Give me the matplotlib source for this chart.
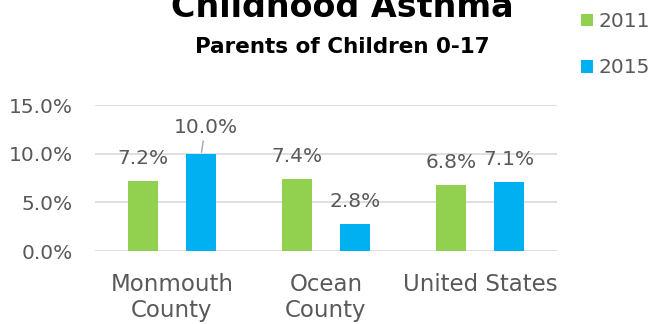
import matplotlib
matplotlib.use("Agg")
import matplotlib.pyplot as plt
import numpy as np
from matplotlib.patches import Patch

categories = ["Monmouth\nCounty", "Ocean\nCounty", "United States"]
series_names = ["2011", "2015"]
values_2011 = [7.2, 7.4, 6.8]
values_2015 = [10.0, 2.8, 7.1]
yticks = [0, 5, 10, 15]

colors = ["#92D050", "#00B0F0"]
text_gray = "#595959"
grid_gray = "#D9D9D9"

plt.rcParams["font.family"] = ["DejaVu Sans"]

fig = plt.figure(figsize=(6.52, 3.24), dpi=100)
ax = fig.add_axes([0.1457, 0.2253, 0.7086, 0.4506])

x = np.arange(len(categories))
offset = 0.19
width = 0.195

bars_a = ax.bar(x - offset, values_2011, width, color=colors[0], zorder=3)
bars_b = ax.bar(x + offset, values_2015, width, color=colors[1], zorder=3)

for bars in (bars_a, bars_b):
    for b in bars:
        v = b.get_height()
        cx = b.get_x() + b.get_width() / 2
        if v >= 9.5:
            # label pushed up with a leader line, as in the source
            ax.annotate(f"{v:.1f}%", xy=(cx, v), xytext=(3, 15),
                        textcoords="offset points", ha="center", va="baseline",
                        fontsize=14.5, color=text_gray,
                        arrowprops=dict(arrowstyle="-", color="#A6A6A6",
                                        lw=1, shrinkA=1, shrinkB=1),
                        annotation_clip=False)
        else:
            ax.annotate(f"{v:.1f}%", xy=(cx, v), xytext=(0, 12),
                        textcoords="offset points", ha="center", va="baseline",
                        fontsize=14.5, color=text_gray, annotation_clip=False)

ax.set_xlim(-0.5, len(categories) - 0.5)
ax.set_ylim(0, 15)
ax.set_yticks(yticks)
ax.set_yticklabels([f"{t:.1f}%" for t in yticks])
ax.set_xticks(x)
ax.set_xticklabels(categories, linespacing=1.15)
ax.grid(axis="y", color=grid_gray, linewidth=1.2, zorder=0)
ax.set_axisbelow(True)
for s in ax.spines.values():
    s.set_visible(False)
ax.tick_params(axis="both", length=0, colors=text_gray)
ax.tick_params(axis="y", labelsize=14.5, pad=16)
ax.tick_params(axis="x", labelsize=16.5, pad=16)

fig.text(0.5245, 0.9475, "Childhood Asthma", ha="center", va="baseline",
         fontsize=24, fontweight="bold", color="black")
fig.text(0.5245, 0.836, "Parents of Children 0-17", ha="center", va="baseline",
         fontsize=15.5, fontweight="bold", color="black",
         family=["Liberation Sans Narrow", "DejaVu Sans"])

handles = [Patch(facecolor=c, edgecolor="none") for c in colors]
fig.legend(handles, series_names, loc="upper left", bbox_to_anchor=(0.872, 1.0),
           frameon=False, fontsize=14.5, labelcolor=text_gray,
           handlelength=0.6, handleheight=0.6, handletextpad=0.3,
           labelspacing=1.35, borderaxespad=0.2)

fig.savefig("out.png", dpi=100, facecolor="white")
